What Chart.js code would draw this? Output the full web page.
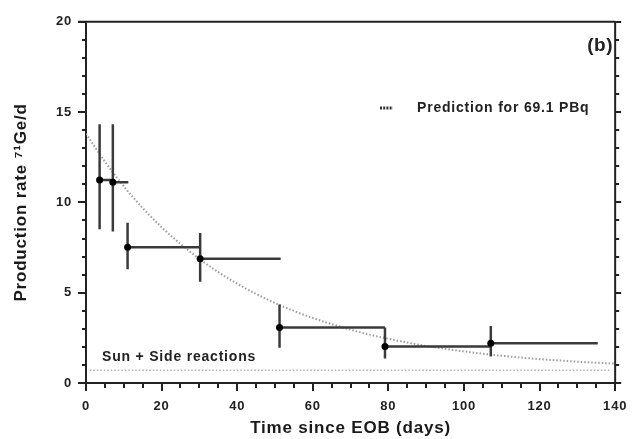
<!DOCTYPE html>
<html>
<head>
<meta charset="utf-8">
<script src="https://cdn.jsdelivr.net/npm/chart.js@4"></script>
<style>
  html, body { margin: 0; padding: 0; background: #fff; }
  #wrap { width: 642px; height: 439px; position: relative; }
</style>
</head>
<body>
<div id="wrap"><canvas id="c" width="642" height="439"></canvas></div>
<script>
// ---- data ----
const runStart = [3.6, 7.1, 11.0, 30.2, 51.2, 79.1, 107.1];   // time since EOB (days)
const runEnd   = [7.1, 11.2, 30.2, 51.5, 79.1, 107.1, 135.4];
const rate     = [11.24, 11.12, 7.52, 6.88, 3.07, 2.02, 2.20];  // 71Ge/d
const rateLow  = [8.52, 8.39, 6.30, 5.61, 1.95, 1.35, 1.47];
const rateHigh = [14.33, 14.33, 8.88, 8.30, 4.34, 3.07, 3.16];

const predT    = [0, 5, 10, 15, 20, 25, 30, 35, 40, 45, 50, 55, 60, 65, 70, 75, 80, 85, 90, 95, 100, 105, 110, 115, 120, 125, 130, 135, 140];
const predRate = [13.8, 12.26, 10.89, 9.69, 8.63, 7.70, 6.87, 6.14, 5.50, 4.93, 4.43, 3.99, 3.60, 3.26, 2.95, 2.68, 2.45, 2.24, 2.05, 1.89, 1.75, 1.62, 1.51, 1.41, 1.32, 1.25, 1.18, 1.12, 1.07];

const bgT    = [1, 138.6];
const bgRate = [0.70, 0.70];

const xTicks = [0, 20, 40, 60, 80, 100, 120, 140];
const yTicks = [0, 5, 10, 15, 20];

const legendText = 'Prediction for 69.1 PBq';
const bgText = 'Sun + Side reactions';
const panelText = '(b)';

// ---- build line segments for error bars ----
const hBars = [];
const vBars = [];
for (let i = 0; i < runStart.length; i++) {
  hBars.push({x: runStart[i], y: rate[i]}, {x: runEnd[i], y: rate[i]}, {x: runEnd[i], y: NaN});
  vBars.push({x: runStart[i], y: rateLow[i]}, {x: runStart[i], y: rateHigh[i]}, {x: runStart[i], y: NaN});
}

const FONT = '"Liberation Sans", Arial, Helvetica, sans-serif';

const decor = {
  id: 'decor',
  beforeDraw(chart) {
    chart.ctx.letterSpacing = '0.8px';
  },
  afterDraw(chart) {
    const ctx = chart.ctx;
    const {left, right, top, bottom} = chart.chartArea;
    const xs = chart.scales.x, ys = chart.scales.y;
    ctx.save();
    ctx.strokeStyle = '#222';
    ctx.lineWidth = 2;
    // frame top & right
    ctx.beginPath();
    ctx.moveTo(left - 8, top); ctx.lineTo(right, top);
    ctx.moveTo(right, top); ctx.lineTo(right, bottom + 1);
    ctx.stroke();
    // left ticks + right ticks
    ctx.beginPath();
    for (let v = 0; v <= 20; v++) {
      const py = Math.round(ys.getPixelForValue(v));
      const major = v % 5 === 0;
      ctx.moveTo(left, py); ctx.lineTo(left - (major ? 8 : 4), py);
      ctx.moveTo(right, py); ctx.lineTo(right + (major ? 6 : 4), py);
    }
    // bottom ticks
    for (let v = 0; v <= 140; v += 5) {
      const px = Math.round(xs.getPixelForValue(v));
      const major = v % 20 === 0;
      ctx.moveTo(px, bottom); ctx.lineTo(px, bottom + (major ? 8 : 5));
    }
    ctx.stroke();

    // legend
    ctx.letterSpacing = '0.8px';
    ctx.fillStyle = '#222';
    ctx.font = 'bold 14px ' + FONT;
    ctx.textBaseline = 'middle';
    ctx.textAlign = 'left';
    const ly = 108;
    ctx.strokeStyle = '#333';
    ctx.lineWidth = 3;
    ctx.setLineDash([2, 1.2]);
    ctx.beginPath(); ctx.moveTo(380, ly); ctx.lineTo(393, ly); ctx.stroke();
    ctx.setLineDash([]);
    ctx.fillText(legendText, 417, ly);
    // background label
    ctx.fillText(bgText, 102, 357);
    // panel label
    ctx.font = 'bold 19px ' + FONT;
    ctx.letterSpacing = '0.5px';
    ctx.textAlign = 'right';
    ctx.fillText(panelText, 613, 46);
    ctx.restore();
  }
};

new Chart(document.getElementById('c'), {
  type: 'line',
  data: {
    datasets: [
      {
        label: 'prediction', data: predT.map((t, i) => ({x: t, y: predRate[i]})),
        borderColor: '#9c9c9c', borderWidth: 2, borderDash: [1.5, 2], pointRadius: 0,
        cubicInterpolationMode: 'monotone', fill: false, order: 5
      },
      {
        label: 'background', data: bgT.map((t, i) => ({x: t, y: bgRate[i]})),
        borderColor: '#b0b0b0', borderWidth: 1.5, borderDash: [1.5, 2], pointRadius: 0, fill: false, order: 5
      },
      {
        label: 'hbars', data: hBars, borderColor: '#3a3a3a', borderWidth: 2.5,
        pointRadius: 0, spanGaps: false, fill: false, order: 3
      },
      {
        label: 'vbars', data: vBars, borderColor: '#3a3a3a', borderWidth: 2.5,
        pointRadius: 0, spanGaps: false, fill: false, order: 3
      },
      {
        label: 'points', data: runStart.map((t, i) => ({x: t, y: rate[i]})),
        showLine: false, pointRadius: 3.5, pointBackgroundColor: '#000', pointBorderColor: '#000',
        pointBorderWidth: 0, order: 1
      }
    ]
  },
  options: {
    responsive: false,
    animation: false,
    events: [],
    layout: { padding: { left: 8, right: 15, top: 16, bottom: 0 } },
    plugins: { legend: { display: false }, tooltip: { enabled: false } },
    scales: {
      x: {
        type: 'linear', min: 0, max: 140,
        afterFit(s) { s.height = 56; },
        afterBuildTicks(s) { s.ticks = xTicks.map(v => ({value: v})); },
        grid: { display: false, drawTicks: false },
        border: { display: true, width: 2, color: '#222' },
        ticks: { padding: 16, color: '#222', font: { family: FONT, size: 13, weight: 'bold' }, autoSkip: false, maxRotation: 0 },
        title: { display: true, text: 'Time since EOB (days)', color: '#1a1a1a', padding: { top: 0, bottom: 0 },
                 font: { family: FONT, size: 17, weight: 'bold' } }
      },
      y: {
        type: 'linear', min: 0, max: 20,
        afterFit(s) { s.width = 78; },
        afterBuildTicks(s) { s.ticks = yTicks.map(v => ({value: v})); },
        grid: { display: false, drawTicks: false },
        border: { display: true, width: 2, color: '#222' },
        ticks: { padding: 14, color: '#222', font: { family: FONT, size: 13, weight: 'bold' } },
        title: { display: true, text: 'Production rate \u2077\u00b9Ge/d', color: '#1a1a1a', padding: { top: 3, bottom: 0 },
                 font: { family: FONT, size: 17, weight: 'bold' } }
      }
    }
  },
  plugins: [decor]
});
</script>
</body>
</html>
